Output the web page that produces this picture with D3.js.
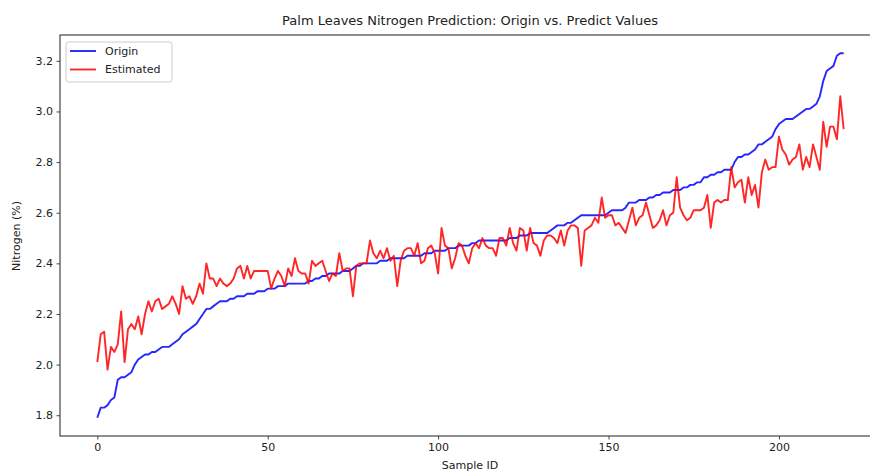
<!DOCTYPE html>
<html>
<head>
<meta charset="utf-8">
<script src="https://cdn.jsdelivr.net/npm/d3@7"></script>
<style>
  body { margin: 0; background: #fff; }
  svg { display: block; font-family: "DejaVu Sans", sans-serif; }
</style>
</head>
<body>
<div class="canvas"><svg></svg></div>
<script>
// measured values, one per sample id
const origin = [
  1.79, 1.83, 1.83, 1.84, 1.86, 1.87, 1.94, 1.95, 1.95, 1.96,
  1.97, 2.00, 2.02, 2.03, 2.04, 2.04, 2.05, 2.05, 2.06, 2.07,
  2.07, 2.07, 2.08, 2.09, 2.10, 2.12, 2.13, 2.14, 2.15, 2.16,
  2.18, 2.20, 2.22, 2.22, 2.23, 2.24, 2.25, 2.25, 2.25, 2.26,
  2.26, 2.27, 2.27, 2.27, 2.28, 2.28, 2.28, 2.29, 2.29, 2.29,
  2.30, 2.30, 2.30, 2.31, 2.31, 2.31, 2.32, 2.32, 2.32, 2.32,
  2.32, 2.32, 2.33, 2.33, 2.34, 2.34, 2.35, 2.35, 2.36, 2.36,
  2.36, 2.36, 2.37, 2.37, 2.37, 2.38, 2.39, 2.39, 2.40, 2.40,
  2.40, 2.40, 2.40, 2.41, 2.41, 2.41, 2.42, 2.42, 2.42, 2.42,
  2.42, 2.43, 2.43, 2.43, 2.43, 2.43, 2.44, 2.44, 2.44, 2.45,
  2.45, 2.45, 2.45, 2.46, 2.46, 2.46, 2.47, 2.47, 2.47, 2.47,
  2.48, 2.48, 2.49, 2.49, 2.49, 2.49, 2.49, 2.49, 2.49, 2.49,
  2.49, 2.50, 2.50, 2.50, 2.51, 2.51, 2.51, 2.52, 2.52, 2.52,
  2.52, 2.52, 2.52, 2.53, 2.54, 2.55, 2.55, 2.55, 2.56, 2.56,
  2.57, 2.58, 2.59, 2.59, 2.59, 2.59, 2.59, 2.59, 2.59, 2.59,
  2.60, 2.61, 2.61, 2.61, 2.61, 2.62, 2.64, 2.64, 2.64, 2.65,
  2.65, 2.65, 2.66, 2.66, 2.67, 2.67, 2.68, 2.68, 2.68, 2.69,
  2.69, 2.69, 2.70, 2.70, 2.71, 2.71, 2.72, 2.72, 2.74, 2.74,
  2.75, 2.75, 2.76, 2.76, 2.77, 2.77, 2.77, 2.80, 2.82, 2.82,
  2.83, 2.83, 2.84, 2.85, 2.87, 2.87, 2.88, 2.89, 2.90, 2.93,
  2.95, 2.96, 2.97, 2.97, 2.97, 2.98, 2.99, 3.00, 3.01, 3.01,
  3.02, 3.03, 3.06, 3.12, 3.16, 3.17, 3.18, 3.22, 3.23, 3.23
];

const estimated = [
  2.01, 2.12, 2.13, 1.98, 2.07, 2.05, 2.08, 2.21, 2.01, 2.14,
  2.16, 2.14, 2.19, 2.12, 2.20, 2.25, 2.21, 2.25, 2.26, 2.22,
  2.23, 2.24, 2.27, 2.24, 2.20, 2.31, 2.26, 2.27, 2.24, 2.27,
  2.32, 2.28, 2.40, 2.34, 2.34, 2.31, 2.34, 2.32, 2.31, 2.32,
  2.34, 2.38, 2.39, 2.34, 2.39, 2.34, 2.37, 2.37, 2.37, 2.37,
  2.37, 2.30, 2.34, 2.37, 2.35, 2.31, 2.38, 2.35, 2.42, 2.37,
  2.36, 2.36, 2.32, 2.41, 2.39, 2.40, 2.41, 2.37, 2.33, 2.36,
  2.35, 2.44, 2.37, 2.38, 2.38, 2.27, 2.39, 2.40, 2.40, 2.40,
  2.49, 2.44, 2.42, 2.45, 2.42, 2.46, 2.41, 2.43, 2.31, 2.41,
  2.45, 2.46, 2.46, 2.43, 2.48, 2.40, 2.41, 2.46, 2.47, 2.44,
  2.36, 2.54, 2.47, 2.46, 2.38, 2.42, 2.48, 2.47, 2.43, 2.40,
  2.46, 2.48, 2.46, 2.50, 2.47, 2.46, 2.46, 2.43, 2.50, 2.50,
  2.47, 2.54, 2.48, 2.45, 2.54, 2.53, 2.45, 2.54, 2.48, 2.47,
  2.43, 2.49, 2.51, 2.51, 2.50, 2.48, 2.53, 2.47, 2.53, 2.55,
  2.55, 2.54, 2.39, 2.53, 2.54, 2.55, 2.58, 2.56, 2.66, 2.58,
  2.59, 2.59, 2.55, 2.56, 2.54, 2.52, 2.57, 2.62, 2.55, 2.58,
  2.59, 2.64, 2.59, 2.54, 2.55, 2.57, 2.61, 2.55, 2.59, 2.60,
  2.74, 2.62, 2.59, 2.57, 2.58, 2.61, 2.61, 2.61, 2.62, 2.67,
  2.54, 2.64, 2.65, 2.64, 2.65, 2.65, 2.78, 2.70, 2.72, 2.73,
  2.64, 2.74, 2.67, 2.71, 2.62, 2.76, 2.81, 2.77, 2.78, 2.78,
  2.90, 2.85, 2.83, 2.79, 2.81, 2.82, 2.87, 2.77, 2.82, 2.78,
  2.87, 2.82, 2.77, 2.96, 2.86, 2.94, 2.94, 2.89, 3.06, 2.93
];

const xTicks = [0, 50, 100, 150, 200];
const yTicks = [1.8, 2.0, 2.2, 2.4, 2.6, 2.8, 3.0, 3.2];
const seriesNames = ['Origin', 'Estimated'];
const seriesColors = ['blue', 'red'];

width = 870
height = 472
const margin = { left: 60, right: -11, top: 35, bottom: 36 }

const svg = d3.select('.canvas').select('svg')
    .attr('width', width)
    .attr('height', height)
    .attr('style', 'background:#fff')

// matplotlib style 5% padding around the data
const n = origin.length
const xPad = (n - 1) * 0.05
const allVals = origin.concat(estimated)
const yMin = d3.min(allVals), yMax = d3.max(allVals)
const yPad = (yMax - yMin) * 0.05

const x = d3.scaleLinear()
    .domain([-xPad, n - 1 + xPad])
    .range([margin.left, width - margin.right])
const y = d3.scaleLinear()
    .domain([yMin - yPad, yMax + yPad])
    .range([height - margin.bottom, margin.top])

const line = d3.line()
    .x((d, i) => x(i))
    .y(d => y(d))

const graph = svg.append('g')

;[origin, estimated].forEach((s, k) => {
    graph.append('path')
        .datum(s)
        .attr('fill', 'none')
        .attr('stroke', seriesColors[k])
        .attr('stroke-opacity', 0.85)
        .attr('stroke-width', 1.9)
        .attr('stroke-linejoin', 'round')
        .attr('d', line)
})

// frame
svg.append('rect')
    .attr('x', margin.left)
    .attr('y', margin.top)
    .attr('width', width - margin.right - margin.left)
    .attr('height', height - margin.bottom - margin.top)
    .attr('fill', 'none')
    .attr('stroke', '#444')
    .attr('stroke-width', 1.2)

const xAxis = svg.append('g')
    .attr('transform', `translate(0,${height - margin.bottom})`)
    .call(d3.axisBottom(x).tickValues(xTicks).tickSize(3.5).tickPadding(3.5).tickFormat(d3.format('d')))
const yAxis = svg.append('g')
    .attr('transform', `translate(${margin.left},0)`)
    .call(d3.axisLeft(y).tickValues(yTicks).tickSize(3.5).tickPadding(3.5).tickFormat(d3.format('.1f')))

;[xAxis, yAxis].forEach(a => {
    a.select('.domain').remove()
    a.selectAll('line').attr('stroke', '#444')
    a.selectAll('text')
        .attr('fill', '#222')
        .style('font-size', '11px')
        .style('font-family', '"DejaVu Sans", sans-serif')
})

svg.append('text')
    .attr('x', 470)
    .attr('y', 25)
    .attr('text-anchor', 'middle')
    .attr('fill', '#222')
    .style('font-size', '13px')
    .text('Palm Leaves Nitrogen Prediction: Origin vs. Predict Values')

svg.append('text')
    .attr('x', 470)
    .attr('y', 469)
    .attr('text-anchor', 'middle')
    .attr('fill', '#222')
    .style('font-size', '11px')
    .text('Sample ID')

svg.append('text')
    .attr('transform', 'translate(20,236) rotate(-90)')
    .attr('text-anchor', 'middle')
    .attr('fill', '#222')
    .style('font-size', '11px')
    .text('Nitrogen (%)')

// legend
const legend = svg.append('g')
    .attr('transform', 'translate(66,42)')
legend.append('rect')
    .attr('width', 106)
    .attr('height', 40)
    .attr('rx', 2.5)
    .attr('fill', '#fff')
    .attr('fill-opacity', 0.8)
    .attr('stroke', '#ccc')
seriesNames.forEach((name, k) => {
    const row = legend.append('g')
        .attr('transform', `translate(0,${9 + k * 18.5})`)
    row.append('line')
        .attr('x1', 4).attr('x2', 30)
        .attr('stroke', seriesColors[k])
        .attr('stroke-opacity', 0.85)
        .attr('stroke-width', 1.9)
    row.append('text')
        .attr('x', 39)
        .attr('dy', '0.35em')
        .attr('fill', '#222')
        .style('font-size', '11px')
        .text(name)
})
</script>
</body>
</html>
